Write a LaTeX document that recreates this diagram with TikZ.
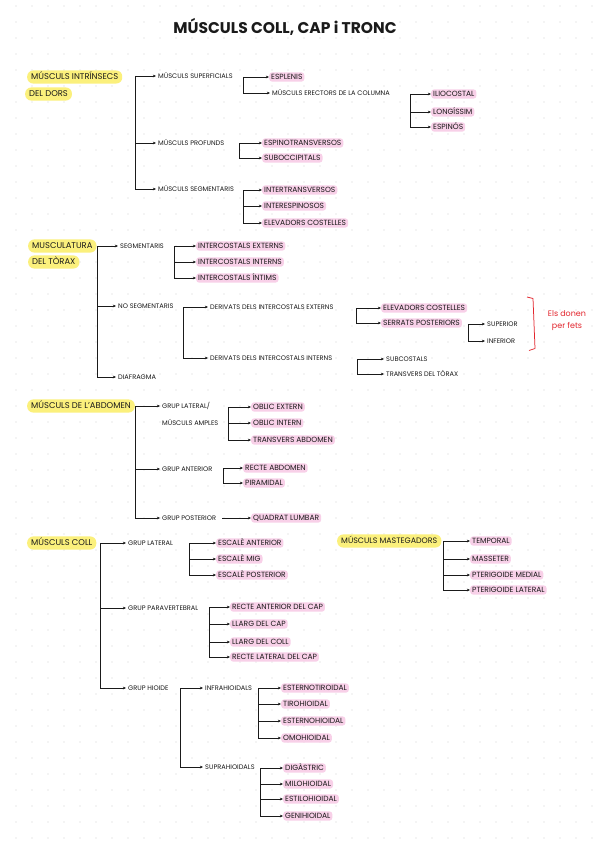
\documentclass[tikz,border=0pt]{standalone}
\usepackage{fontspec}
\setmainfont{Poppins}
\usetikzlibrary{arrows.meta}

\definecolor{hlyellow}{HTML}{FBF07C}
\definecolor{hlpink}{HTML}{F8D0E8}
\definecolor{inkc}{HTML}{1A1A1A}
\definecolor{notec}{HTML}{E3262E}
\definecolor{dotc}{HTML}{D0D0D0}

\begin{document}
\begin{tikzpicture}[x=1pt, y=-1pt]

\tikzset{
  head/.style={fill=hlyellow, rounded corners=6pt, anchor=west, xshift=-4pt,
    inner xsep=4pt, inner ysep=3pt, text height=6.3pt, text depth=0.8pt,
    font=\fontsize{8.4}{9}\selectfont, text=inkc},
  item/.style={anchor=west, xshift=-2pt, inner xsep=2pt, inner ysep=1.6pt,
    text height=5pt, text depth=0.6pt, font=\fontsize{6.6}{7}\selectfont, text=inkc},
  musc/.style={item, fill=hlpink, rounded corners=3pt, text height=5.5pt,
    font=\fontsize{7.5}{8}\selectfont},
  spine/.style={line width=0.75pt, draw=inkc},
  link/.style={spine, -{Stealth[length=3.2pt, width=2.8pt]}}
}

% paper
\useasboundingbox (0,0) rectangle (599,848);
\fill[white] (0,0) rectangle (599,848);
\foreach \i in {1,...,37}
  \foreach \j in {0,...,52}
    \fill[dotc] (16*\i, 6+16*\j) circle (0.7);

\node[font=\fontsize{15.5}{17}\selectfont\bfseries, text=inkc] (title) at (285,27) {MÚSCULS COLL, CAP i TRONC};

%dors
\node[head] (dors1) at (31,77) {MÚSCULS INTRÍNSECS};
\node[head] (dors2) at (29,94) {DEL DORS};
\coordinate (sA) at (135,0);
\node[item] (sup) at (158,76) {MÚSCULS SUPERFICIALS};
\node[item] (prof) at (158,143) {MÚSCULS PROFUNDS};
\node[item] (segm) at (158,189) {MÚSCULS SEGMENTARIS};
\draw[spine] (sA |- sup) -- (sA |- segm);
\foreach \c in {sup,prof,segm}
  \draw[link] (sA |- \c) -- (\c);

\coordinate (sB) at (243,0);
\node[musc] (espl) at (271,77) {ESPLENIS};
\node[item] (erect) at (272,93) {MÚSCULS ERECTORS DE LA COLUMNA};
\draw[spine] (sB |- espl) -- (sB |- erect);
\foreach \c in {espl,erect}
  \draw[link] (sB |- \c) -- (\c);

\coordinate (sC) at (410,0);
\node[musc] (ilio) at (433,94) {ILIOCOSTAL};
\node[musc] (longi) at (433,112) {LONGÍSSIM};
\node[musc] (espi) at (433,127) {ESPINÓS};
\draw[spine] (sC |- ilio) -- (sC |- espi);
\foreach \c in {ilio,longi,espi}
  \draw[link] (sC |- \c) -- (\c);

\coordinate (sD) at (239,0);
\node[musc] (esptr) at (264,143) {ESPINOTRANSVERSOS};
\node[musc] (subo) at (264,158) {SUBOCCIPITALS};
\draw[spine] (sD |- esptr) -- (sD |- subo);
\foreach \c in {esptr,subo}
  \draw[link] (sD |- \c) -- (\c);

\coordinate (sE) at (243,0);
\node[musc] (intt) at (264,190) {INTERTRANSVERSOS};
\node[musc] (inte) at (264,206) {INTERESPINOSOS};
\node[musc] (elev) at (264,223) {ELEVADORS COSTELLES};
\draw[spine] (sE |- intt) -- (sE |- elev);
\foreach \c in {intt,inte,elev}
  \draw[link] (sE |- \c) -- (\c);

%torax
\node[head] (tor1) at (32,246) {MUSCULATURA};
\node[head] (tor2) at (32,262) {DEL TÒRAX};
\coordinate (sF) at (97,0);
\node[item] (tseg) at (120,246) {SEGMENTARIS};
\node[item] (tnos) at (118,306) {NO SEGMENTARIS};
\node[item] (diaf) at (118,377) {DIAFRAGMA};
\draw[spine] (sF |- tseg) -- (sF |- diaf);
\foreach \c in {tseg,tnos,diaf}
  \draw[link] (sF |- \c) -- (\c);

\coordinate (sG) at (174,0);
\node[musc] (icext) at (198,246) {INTERCOSTALS EXTERNS};
\node[musc] (icint) at (198,262) {INTERCOSTALS INTERNS};
\node[musc] (icinm) at (198,278) {INTERCOSTALS ÍNTIMS};
\draw[spine] (sG |- icext) -- (sG |- icinm);
\foreach \c in {icext,icint,icinm}
  \draw[link] (sG |- \c) -- (\c);

\coordinate (sH) at (183,0);
\node[item] (dext) at (210,307) {DERIVATS DELS INTERCOSTALS EXTERNS};
\node[item] (dint) at (210,358) {DERIVATS DELS INTERCOSTALS INTERNS};
\draw[spine] (sH |- dext) -- (sH |- dint);
\foreach \c in {dext,dint}
  \draw[link] (sH |- \c) -- (\c);

\coordinate (sI) at (356,0);
\node[musc] (elco) at (383,308) {ELEVADORS COSTELLES};
\node[musc] (serr) at (383,323) {SERRATS POSTERIORS};
\draw[spine] (sI |- elco) -- (sI |- serr);
\foreach \c in {elco,serr}
  \draw[link] (sI |- \c) -- (\c);

\coordinate (sJ) at (468,0);
\node[item] (supe) at (487,324) {SUPERIOR};
\node[item] (infe) at (487,341) {INFERIOR};
\draw[spine] (sJ |- supe) -- (sJ |- infe);
\foreach \c in {supe,infe}
  \draw[link] (sJ |- \c) -- (\c);

\coordinate (sK) at (357,0);
\node[item] (subc) at (386,359) {SUBCOSTALS};
\node[item] (trtx) at (386,374) {TRANSVERS DEL TÒRAX};
\draw[spine] (sK |- subc) -- (sK |- trtx);
\foreach \c in {subc,trtx}
  \draw[link] (sK |- \c) -- (\c);

\draw[notec, line width=0.75pt, line join=round] (527,297) -- (533,298.5) -- (535,348.5) -- (529,350.5);
\node[align=center, text=notec, font=\fontsize{8}{12}\selectfont] (note) at (567,321) {Els donen\\per fets};

%abdomen
\node[head] (abd) at (31,406) {MÚSCULS DE L'ABDOMEN};
\coordinate (sL) at (135,0);
\node[item] (glat) at (162,406) {GRUP LATERAL/};
\node[item] (ampl) at (162,423) {MÚSCULS AMPLES};
\node[item] (gant) at (162,469) {GRUP ANTERIOR};
\node[item] (gpos) at (162,518) {GRUP POSTERIOR};
\draw[spine] (sL |- glat) -- (sL |- gpos);
\foreach \c in {glat,gant,gpos}
  \draw[link] (sL |- \c) -- (\c);

\coordinate (sM) at (228,0);
\node[musc] (obex) at (253,407) {OBLIC EXTERN};
\node[musc] (obin) at (253,423) {OBLIC INTERN};
\node[musc] (trab) at (253,440) {TRANSVERS ABDOMEN};
\draw[spine] (sM |- obex) -- (sM |- trab);
\foreach \c in {obex,obin,trab}
  \draw[link] (sM |- \c) -- (\c);

\coordinate (sN) at (223,0);
\node[musc] (rect) at (245,468) {RECTE ABDOMEN};
\node[musc] (pira) at (245,483) {PIRAMIDAL};
\draw[spine] (sN |- rect) -- (sN |- pira);
\foreach \c in {rect,pira}
  \draw[link] (sN |- \c) -- (\c);

\node[musc] (quad) at (253,518) {QUADRAT LUMBAR};
\draw[link, shorten <=4pt] (gpos) -- (quad);

%coll
\node[head] (coll) at (31,543) {MÚSCULS COLL};
\coordinate (sO) at (100,0);
\node[item] (clat) at (128,543) {GRUP LATERAL};
\node[item] (cpar) at (128,608) {GRUP PARAVERTEBRAL};
\node[item] (chio) at (128,688) {GRUP HIOIDE};
\draw[spine] (sO |- clat) -- (sO |- chio);
\foreach \c in {clat,cpar,chio}
  \draw[link] (sO |- \c) -- (\c);

\coordinate (sP) at (189,0);
\node[musc] (esca) at (218,543) {ESCALÈ ANTERIOR};
\node[musc] (escm) at (218,559) {ESCALÈ MIG};
\node[musc] (escp) at (218,575) {ESCALÈ POSTERIOR};
\draw[spine] (sP |- esca) -- (sP |- escp);
\foreach \c in {esca,escm,escp}
  \draw[link] (sP |- \c) -- (\c);

\coordinate (sQ) at (209,0);
\node[musc] (reca) at (232,607) {RECTE ANTERIOR DEL CAP};
\node[musc] (llcap) at (232,624) {LLARG DEL CAP};
\node[musc] (llcoll) at (232,642) {LLARG DEL COLL};
\node[musc] (recl) at (232,657) {RECTE LATERAL DEL CAP};
\draw[spine] (sQ |- reca) -- (sQ |- recl);
\foreach \c in {reca,llcap,llcoll,recl}
  \draw[link] (sQ |- \c) -- (\c);

\coordinate (sR) at (180,0);
\node[item] (infr) at (205,688) {INFRAHIOIDALS};
\node[item] (supr) at (205,767) {SUPRAHIOIDALS};
\draw[spine] (sR |- infr) -- (sR |- supr);
\foreach \c in {infr,supr}
  \draw[link] (sR |- \c) -- (\c);

\coordinate (sS) at (258,0);
\node[musc] (este) at (283,688) {ESTERNOTIROIDAL};
\node[musc] (tiro) at (283,704) {TIROHIOIDAL};
\node[musc] (estn) at (283,721) {ESTERNOHIOIDAL};
\node[musc] (omoh) at (283,738) {OMOHIOIDAL};
\draw[spine] (sS |- este) -- (sS |- omoh);
\foreach \c in {este,tiro,estn,omoh}
  \draw[link] (sS |- \c) -- (\c);

\coordinate (sT) at (260,0);
\node[musc] (diga) at (285,768) {DIGÀSTRIC};
\node[musc] (milo) at (285,784) {MILOHIOIDAL};
\node[musc] (esti) at (285,799) {ESTILOHIOIDAL};
\node[musc] (geni) at (285,816) {GENIHIOIDAL};
\draw[spine] (sT |- diga) -- (sT |- geni);
\foreach \c in {diga,milo,esti,geni}
  \draw[link] (sT |- \c) -- (\c);

%mastegadors
\node[head, font=\fontsize{7.9}{9}\selectfont] (mast) at (341,541) {MÚSCULS MASTEGADORS};
\coordinate (sU) at (443,0);
\node[musc] (temp) at (472,541) {TEMPORAL};
\node[musc] (mass) at (472,559) {MASSETER};
\node[musc] (ptm) at (472,575) {PTERIGOIDE MEDIAL};
\node[musc] (ptl) at (472,590) {PTERIGOIDE LATERAL};
\draw[spine] (sU |- temp) -- (sU |- ptl);
\foreach \c in {temp,mass,ptm,ptl}
  \draw[link] (sU |- \c) -- (\c);
\end{tikzpicture}
\end{document}
